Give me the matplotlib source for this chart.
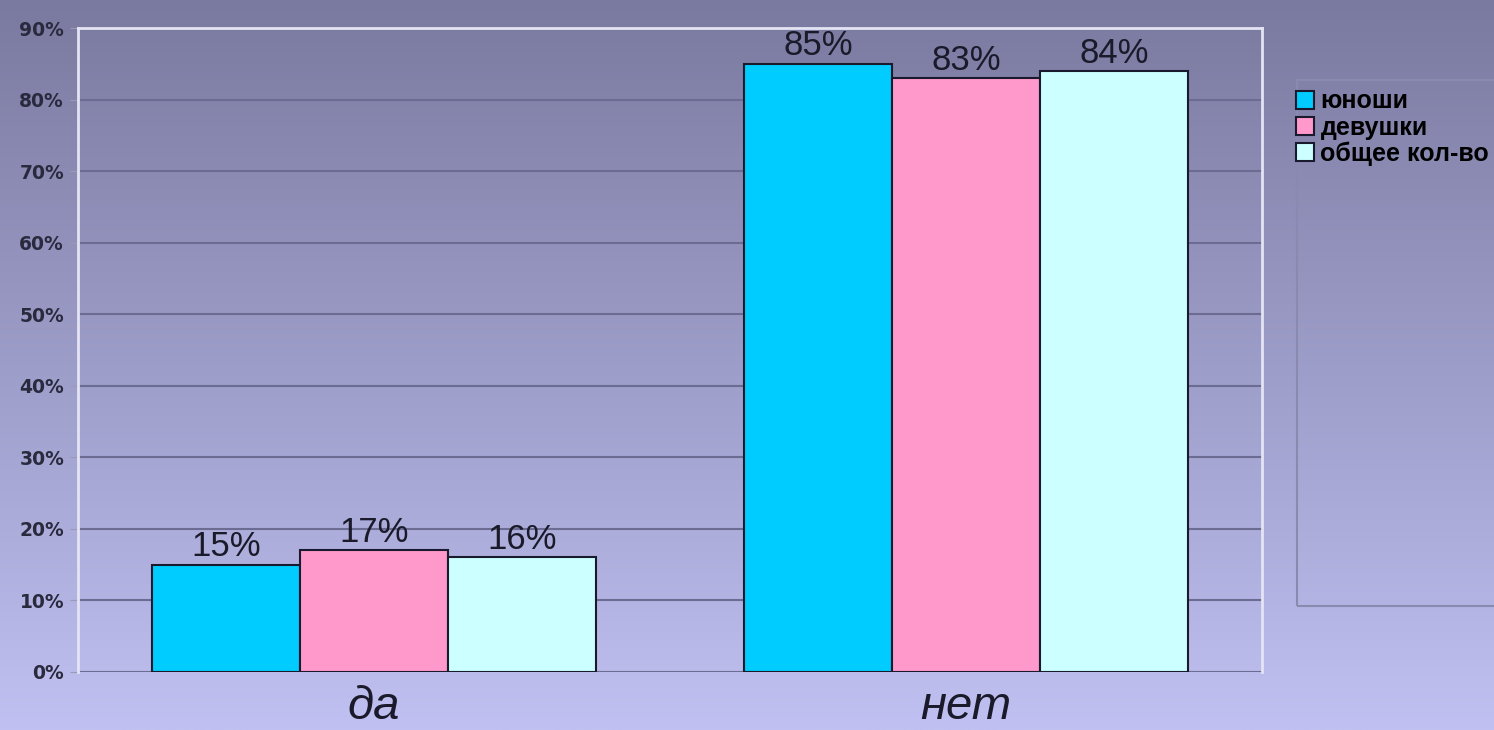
import numpy as np
import matplotlib
matplotlib.use('Agg')
import matplotlib.pyplot as plt
import matplotlib.transforms as mtransforms
from matplotlib.patches import Rectangle, Patch

categories = ['да', 'нет']
series_names = ['юноши', 'девушки', 'общее кол-во']
yunoshi = [15, 85]
devushki = [17, 83]
obshchee = [16, 84]
y_ticks = [0, 10, 20, 30, 40, 50, 60, 70, 80, 90]

colors = ['#00ccff', '#ff99cc', '#ccffff']

plt.rcParams['font.family'] = ['Liberation Sans', 'DejaVu Sans']

fig = plt.figure(figsize=(14.94, 7.30), dpi=100)

# vertical gradient background
bg = fig.add_axes([0, 0, 1, 1], zorder=-10)
top = np.array([122, 122, 160]) / 255.
bot = np.array([192, 192, 242]) / 255.
t = np.linspace(0, 1, 256)[:, None]
grad = top[None, None, :] * (1 - t[..., None]) + bot[None, None, :] * t[..., None]
grad = np.repeat(grad, 4, axis=1)
bg.imshow(grad, aspect='auto', extent=[0, 1, 0, 1])
bg.set_axis_off()

ax = fig.add_axes([0.0522, 0.0795, 0.7925, 0.8821])
ax.patch.set_alpha(0)

x = np.arange(len(categories))
width = 0.25
for i, (vals, name) in enumerate(zip([yunoshi, devushki, obshchee], series_names)):
    pos = x + (i - 1) * width
    ax.bar(pos, vals, width, color=colors[i], edgecolor='#1a1a2e',
           linewidth=1.5, label=name, zorder=3)
    for px, v in zip(pos, vals):
        ax.annotate('{}%'.format(v), (px, v), xytext=(0, 6),
                    textcoords='offset points', ha='center', va='baseline',
                    fontsize=25, color='#1a1a2a', zorder=4)

ax.set_xlim(-0.5, 1.5)
ax.set_ylim(0, 90)
ax.set_yticks(y_ticks)
ax.set_yticklabels(['{}%'.format(v) for v in y_ticks], fontsize=13.5,
                   fontweight='bold', family=['DejaVu Sans'], color='#2a2a3e')
ax.yaxis.grid(True, color='#6c6c92', linewidth=1.5, zorder=0)
ax.tick_params(axis='y', length=6, color='#9a9ab8', pad=4)

# category labels near the bottom edge of the figure
ax.set_xticks(x)
ax.set_xticklabels([])
ax.tick_params(axis='x', length=0)
trans = mtransforms.blended_transform_factory(ax.transData, fig.transFigure)
for xi, cat in zip(x, categories):
    ax.text(xi, 11 / 730., cat, transform=trans, ha='center', va='baseline',
            fontsize=34, style='italic', color='#1a1a2a')

for side in ['left', 'top', 'right']:
    ax.spines[side].set_color('#e4e4f4')
    ax.spines[side].set_linewidth(2)
ax.spines['bottom'].set_visible(False)

# legend frame
fig.patches.append(Rectangle((1297 / 1494., 124 / 730.), 0.2, 526 / 730.,
                             transform=fig.transFigure, facecolor='none',
                             edgecolor='#8a8ab0', linewidth=1.5))
handles = [Patch(facecolor=c, edgecolor='#1a1a2e', linewidth=1.5) for c in colors]
fig.legend(handles, series_names, loc='upper left',
           bbox_to_anchor=(1278 / 1494., 1 - 72 / 730.), frameon=False,
           handlelength=0.75, handleheight=0.75,
           handletextpad=0.25, labelspacing=0.08, borderpad=0.2,
           prop={'weight': 'bold', 'size': 18})

fig.savefig('out.png', dpi=100)
